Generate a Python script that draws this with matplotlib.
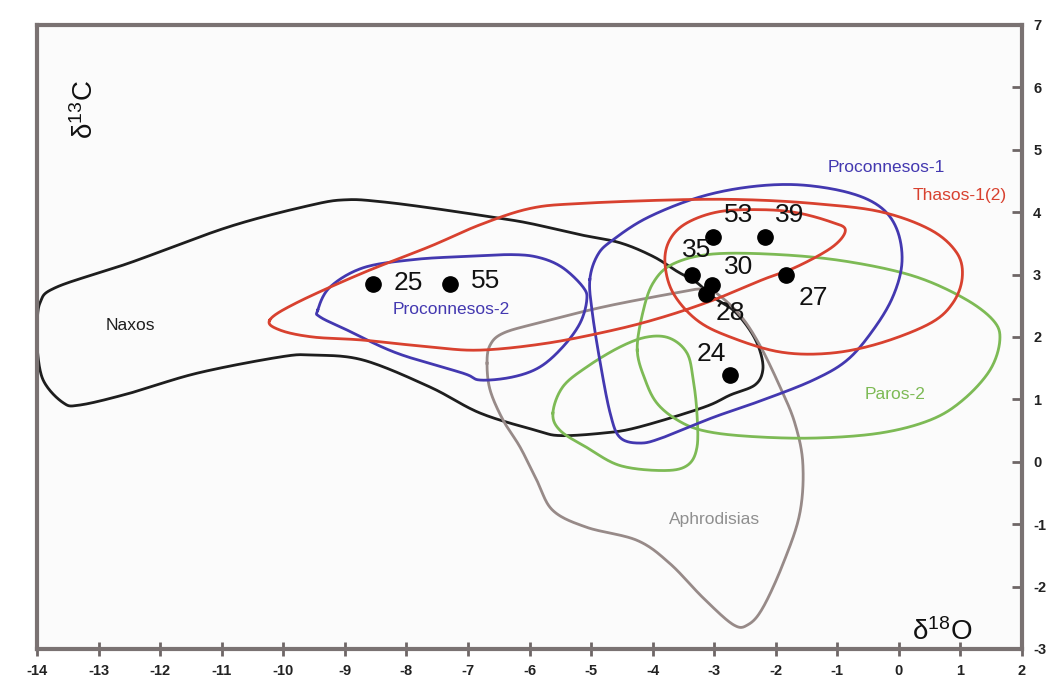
import numpy as np
import matplotlib
matplotlib.use("Agg")
import matplotlib.pyplot as plt

plt.rcParams['font.family'] = ['Liberation Sans', 'DejaVu Sans']
plt.rcParams['mathtext.fontset'] = 'custom'
plt.rcParams['mathtext.rm'] = 'Liberation Sans'
plt.rcParams['mathtext.it'] = 'Liberation Sans:italic'
plt.rcParams['axes.unicode_minus'] = False

# ---- sample points (d18O, d13C) ----
sample_ids = ["25", "55", "53", "39", "35", "30", "28", "27", "24"]
sample_x = [-8.54, -7.29, -3.02, -2.17, -3.36, -3.04, -3.13, -1.83, -2.74]
sample_y = [2.85, 2.85, 3.61, 3.61, 3.00, 2.84, 2.69, 3.00, 1.39]
label_x = [-7.97, -6.72, -2.61, -1.78, -3.28, -2.61, -2.73, -1.39, -3.05]
label_y = [2.86, 2.89, 3.95, 3.95, 3.40, 3.12, 2.39, 2.63, 1.72]

# ---- field outlines (d18O, d13C) ----
naxos_x = [-14.0, -13.95, -13.68, -12.49, -10.87, -9.52, -8.96, -8.43, -7.62, -6.53, -5.99,
           -5.18, -4.53, -3.99, -3.60, -3.28, -3.02, -2.69, -2.42, -2.26, -2.21, -2.34, -2.74,
           -3.18, -4.25, -4.81, -5.50, -5.88, -6.80, -7.62, -8.70, -9.52, -10.05, -11.40,
           -12.49, -13.30, -13.58, -13.90, -14.0]
naxos_y = [2.11, 2.55, 2.80, 3.19, 3.77, 4.12, 4.20, 4.17, 4.07, 3.91, 3.82,
           3.64, 3.51, 3.29, 3.05, 2.87, 2.64, 2.43, 2.11, 1.79, 1.47, 1.23, 1.07,
           0.87, 0.55, 0.46, 0.42, 0.50, 0.78, 1.20, 1.63, 1.71, 1.68, 1.42,
           1.10, 0.91, 0.95, 1.31, 1.84]

procon2_x = [-9.44, -9.24, -8.70, -7.89, -7.08, -6.27, -5.83, -5.46, -5.13, -5.07, -5.18,
             -5.46, -5.83, -6.27, -6.80, -7.08, -8.15, -8.96, -9.40]
procon2_y = [2.43, 2.80, 3.11, 3.24, 3.29, 3.32, 3.27, 3.11, 2.80, 2.59, 2.22,
             1.84, 1.52, 1.36, 1.31, 1.42, 1.74, 2.11, 2.32]

thasos_x = [-10.22, -9.78, -8.70, -7.62, -6.80, -5.99, -5.18, -3.56, -2.47, -1.39, -0.31,
            0.51, 0.94, 1.03, 0.88, 0.51, -0.31, -1.12, -1.93, -2.74, -3.28, -3.67, -3.80,
            -3.72, -3.44, -2.91, -2.21, -1.65, -1.12, -0.87, -1.07, -1.65, -2.21, -3.02,
            -3.83, -4.64, -5.72, -6.80, -7.62, -8.70, -9.52, -10.05]
thasos_y = [2.27, 2.55, 3.03, 3.45, 3.80, 4.06, 4.14, 4.20, 4.20, 4.14, 4.01,
            3.72, 3.35, 2.96, 2.55, 2.22, 1.90, 1.74, 1.76, 2.00, 2.27, 2.71, 3.19,
            3.56, 3.83, 4.01, 4.04, 3.99, 3.85, 3.72, 3.45, 3.13, 2.92, 2.59,
            2.32, 2.11, 1.90, 1.79, 1.84, 1.95, 2.00, 2.11]

procon1_x = [-5.02, -4.89, -4.64, -4.09, -3.28, -2.47, -1.65, -0.84, -0.31, -0.03, 0.05,
             -0.10, -0.42, -0.84, -1.39, -2.21, -3.02, -3.83, -4.20, -4.53, -4.69, -4.85, -4.98]
procon1_y = [2.92, 3.32, 3.56, 3.91, 4.23, 4.40, 4.44, 4.32, 4.09, 3.72, 3.19,
             2.64, 2.11, 1.63, 1.31, 0.99, 0.71, 0.39, 0.30, 0.39, 0.78, 1.58, 2.39]

paros2_x = [-4.25, -4.16, -3.99, -3.67, -3.02, -1.93, -0.84, 0.23, 1.04, 1.53, 1.64,
            1.48, 1.04, 0.51, -0.31, -1.39, -2.47, -3.18, -3.60, -3.93, -4.12]
paros2_y = [1.79, 2.39, 2.87, 3.17, 3.33, 3.32, 3.21, 2.98, 2.63, 2.27, 1.95,
            1.47, 0.99, 0.67, 0.46, 0.38, 0.41, 0.50, 0.67, 0.94, 1.31]

paros_in_x = [-5.62, -5.46, -5.07, -4.53, -4.09, -3.72, -3.44, -3.34, -3.28, -3.28, -3.44,
              -3.83, -4.53, -5.07, -5.50]
paros_in_y = [0.78, 1.20, 1.52, 1.84, 2.00, 1.98, 1.74, 1.31, 0.78, 0.23, -0.06,
              -0.14, -0.06, 0.23, 0.50]

aphro_x = [-6.69, -6.64, -6.43, -5.88, -4.81, -3.72, -3.23, -2.99, -2.58, -2.26, -1.93,
           -1.69, -1.56, -1.61, -1.88, -2.21, -2.45, -2.69, -3.18, -3.72, -4.25, -5.07,
           -5.62, -5.88, -6.15, -6.43, -6.64]
aphro_y = [1.58, 1.87, 2.06, 2.22, 2.48, 2.69, 2.77, 2.72, 2.35, 1.87, 1.20,
           0.62, -0.03, -0.83, -1.63, -2.34, -2.61, -2.61, -2.18, -1.63, -1.26, -1.05,
           -0.78, -0.30, 0.23, 0.67, 1.15]

# ---- field labels ----
field_names = ["Naxos", "Proconnesos-2", "Proconnesos-1", "Thasos-1(2)", "Paros-2", "Aphrodisias"]
field_lx = [-12.49, -7.27, -0.21, 0.99, -0.06, -2.99]
field_ly = [2.18, 2.44, 4.72, 4.26, 1.08, -0.93]

x_ticks = list(range(-14, 3))
y_ticks = list(range(-3, 8))


def smooth_closed(xs, ys, n=24):
    P = np.column_stack([xs, ys]).astype(float)
    N = len(P)
    t = np.linspace(0, 1, n, endpoint=False)[:, None]
    segs = []
    for i in range(N):
        p0, p1, p2, p3 = P[(i - 1) % N], P[i], P[(i + 1) % N], P[(i + 2) % N]
        seg = 0.5 * (2 * p1 + (-p0 + p2) * t + (2 * p0 - 5 * p1 + 4 * p2 - p3) * t ** 2
                     + (-p0 + 3 * p1 - 3 * p2 + p3) * t ** 3)
        segs.append(seg)
    segs.append(P[:1])
    out = np.vstack(segs)
    return out[:, 0], out[:, 1]


fig = plt.figure(figsize=(10.51, 6.81), dpi=100, facecolor='white')
ax = fig.add_axes([37 / 1051, 1 - 649 / 681, (1022 - 37) / 1051, (649 - 25) / 681])
ax.set_facecolor('#fbfbfb')

c_black = '#1e1e1e'
c_red = '#d8412f'
c_blue = '#4338b0'
c_green = '#7dba55'
c_gray = '#978a88'

shapes = [
    (naxos_x, naxos_y, c_black),
    (aphro_x, aphro_y, c_gray),
    (paros_in_x, paros_in_y, c_green),
    (paros2_x, paros2_y, c_green),
    (procon2_x, procon2_y, c_blue),
    (procon1_x, procon1_y, c_blue),
    (thasos_x, thasos_y, c_red),
]
for xs, ys, col in shapes:
    sx, sy = smooth_closed(xs, ys)
    ax.plot(sx, sy, color=col, lw=2.0, solid_joinstyle='round')

ax.plot(sample_x, sample_y, 'o', color='black', ms=11, zorder=5)
for sid, lx, ly in zip(sample_ids, label_x, label_y):
    ax.text(lx, ly, sid, fontsize=19, ha='center', va='center', color='#111111', zorder=6)

field_colors = [c_black, c_blue, c_blue, c_red, c_green, '#8f8f8f']
for name, lx, ly, col in zip(field_names, field_lx, field_ly, field_colors):
    ax.text(lx, ly, name, fontsize=12.5, ha='center', va='center', color=col)

ax.text(-13.22, 5.65, r'δ$^{\mathrm{13}}$C', fontsize=20, rotation=90,
        ha='center', va='center', color='#111111')
ax.text(0.70, -2.73, r'δ$^{\mathrm{18}}$O', fontsize=20,
        ha='center', va='center', color='#111111')

ax.set_xlim(-14, 2)
ax.set_ylim(-3, 7)
ax.set_xticks(x_ticks)
ax.set_xticklabels([str(v) for v in x_ticks])
ax.set_yticks(y_ticks)
ax.set_yticklabels([str(v) for v in y_ticks])
ax.yaxis.tick_right()
ax.tick_params(axis='x', direction='inout', length=10, width=2, color='#6e6666',
               labelsize=10.5, pad=6, labelcolor='#222222')
ax.tick_params(axis='y', direction='in', length=7, width=2, color='#6e6666',
               labelsize=10.5, pad=8, labelcolor='#222222', left=False, right=True)
for lab in ax.get_xticklabels() + ax.get_yticklabels():
    lab.set_fontweight('bold')
for sp in ax.spines.values():
    sp.set_color('#7a7272')
    sp.set_linewidth(3)

fig.savefig('out.png', dpi=100, facecolor='white')
